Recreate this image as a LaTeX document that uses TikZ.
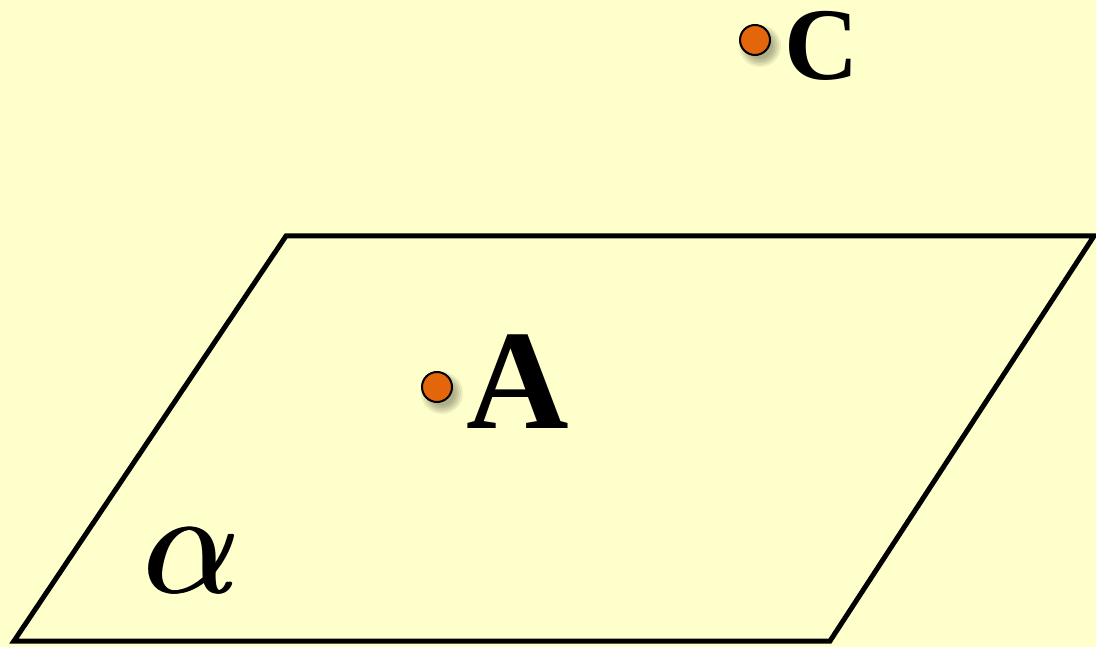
\documentclass[tikz,border=0pt]{standalone}
\usepackage{fontspec}
\usepackage{amsmath,amssymb,graphicx}
\newfontfamily\timesfont{Liberation Serif}
\definecolor{bg}{HTML}{FFFFCC}
\definecolor{dotc}{HTML}{E3660A}
\tikzset{
  pt/.style={circle,draw=black,line width=2pt,fill=dotc,minimum size=30pt,inner sep=0pt},
  shd/.style={fill=black,opacity=0.07},
  lbl/.style={inner sep=0pt,anchor=base},
  edge/.style={line width=5pt,line join=miter}
}
\newcommand{\softshadow}[1]{%
  \foreach \r in {21,19,17,15,13}{\fill[shd] ($(#1)+(5,6)$) circle (\r pt);}}
\newcommand{\onealpha}{\scalebox{14.8}{$\alpha$}}
\newcommand{\heavyalpha}{\rlap{\onealpha}\kern1.6pt\rlap{\onealpha}\kern1.6pt\onealpha}
\usetikzlibrary{calc}
\begin{document}
\begin{tikzpicture}[x=1pt,y=-1pt]
\fill[bg] (0,0) rectangle (1096,647);
\useasboundingbox (0,0) rectangle (1096,647);
\coordinate (p1) at (286,236);
\coordinate (p2) at (1094,236);
\coordinate (p3) at (830,641);
\coordinate (p4) at (14,641);
\draw[edge] (p1) -- (p2) -- (p3) -- (p4) -- cycle;
\coordinate (Cc) at (755,40);
\coordinate (Ac) at (437,387);
\softshadow{Cc}
\softshadow{Ac}
\node[pt] (C) at (Cc) {};
\node[pt] (A) at (Ac) {};
\node[lbl] (Cl) at (822,80) {\fontsize{103}{103}\selectfont\timesfont\bfseries C};
\node[lbl] (Al) at (518,428) {\fontsize{142}{142}\selectfont\timesfont\bfseries A};
\node[lbl] (al) at (192,592) {\heavyalpha};
\end{tikzpicture}
\end{document}
